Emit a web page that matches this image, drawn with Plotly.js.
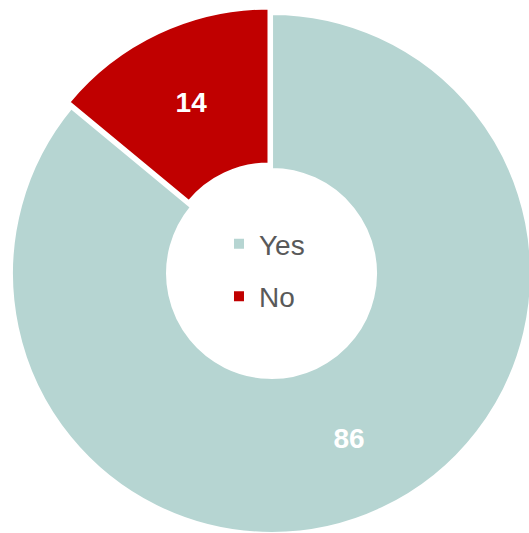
<!DOCTYPE html>
<html>
<head>
<meta charset="utf-8">
<script src="https://cdn.plot.ly/plotly-3.0.1.min.js"></script>
<style>
html, body { margin: 0; padding: 0; overflow: hidden; background: #ffffff; width: 529px; height: 533px; }
#chart { position: absolute; left: 3px; top: 2px; }
</style>
</head>
<body>
<div id="chart"></div>
<script>
var categories = ["Yes", "No"];
var values = [86, 14];
var colors = ["#b6d5d2", "#c00000"];
var pulls = [0.023, 0];

var pie = {
  type: "pie",
  labels: categories,
  values: values,
  sort: false,
  direction: "clockwise",
  rotation: 0,
  hole: 0.4,
  pull: pulls,
  marker: { colors: colors, line: { color: "#ffffff", width: 3 } },
  texttemplate: "%{value}",
  textinfo: "value",
  textposition: "inside",
  insidetextorientation: "horizontal",
  textfont: { family: "Liberation Sans, Arial, sans-serif", size: 28, color: "#ffffff", weight: "bold" },
  showlegend: false,
  hoverinfo: "none",
  domain: { x: [0, 1], y: [0, 1] }
};

var legendTraces = categories.map(function (c, i) {
  return {
    type: "scatter",
    mode: "markers",
    x: [null],
    y: [null],
    name: c,
    legendgroup: "g" + i,
    marker: { symbol: "square", size: 10, color: colors[i] },
    showlegend: true,
    hoverinfo: "none"
  };
});

var layout = {
  width: 532,
  height: 532,
  margin: { l: 0, r: 0, t: 0, b: 0, pad: 0 },
  paper_bgcolor: "#ffffff",
  plot_bgcolor: "rgba(0,0,0,0)",
  showlegend: true,
  xaxis: { visible: false },
  yaxis: { visible: false },
  legend: {
    x: 0.406,
    xanchor: "left",
    y: 0.496,
    yanchor: "middle",
    traceorder: "grouped",
    tracegroupgap: 13,
    bgcolor: "rgba(0,0,0,0)",
    borderwidth: 0,
    font: { family: "Liberation Sans, Arial, sans-serif", size: 28, color: "#595959" }
  }
};

Plotly.newPlot("chart", [pie].concat(legendTraces), layout, { staticPlot: true, displayModeBar: false });
</script>
</body>
</html>
